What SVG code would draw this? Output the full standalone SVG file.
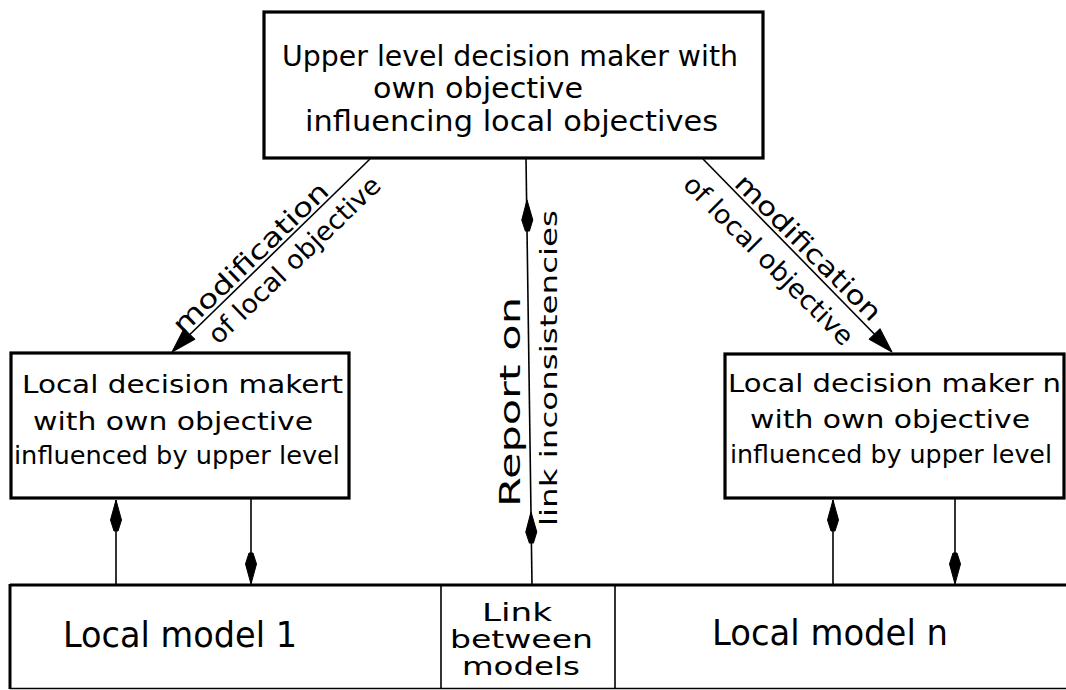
<svg xmlns="http://www.w3.org/2000/svg" width="1066" height="690" viewBox="0 0 1066 690">
  <style>
    .box { fill: #fff; stroke: #000; stroke-width: 3.2; }
    .thin { fill: none; stroke: #000; stroke-width: 1.6; }
    .edge { fill: none; stroke: #000; stroke-width: 3; }
    .t { font-family: "DejaVu Sans", "Liberation Sans", sans-serif; fill: #000; }
    .head { fill: #000; stroke: #000; stroke-width: 1; stroke-linejoin: round; }
  </style>
  <defs>
    <!-- narrow kite-shaped arrowhead, tip at origin, pointing up -->
    <path id="kite" d="M0,0 L-5.5,20 L-2,31 L2,31 L5.5,20 Z"/>
    <!-- broader triangular arrowhead for the diagonal connectors -->
    <path id="tri" d="M0,0 L-7.5,25 L7.5,25 Z"/>
  </defs>

  <rect width="1066" height="690" fill="#fff"/>

  <!-- connectors -->
  <g id="connectors">
    <!-- upper level to local decision maker 1 -->
    <line class="thin" x1="370" y1="159" x2="176" y2="348"/>
    <use href="#tri" class="head" transform="translate(172,352) rotate(-136)"/>
    <!-- upper level to local decision maker n -->
    <line class="thin" x1="703" y1="159" x2="888" y2="348"/>
    <use href="#tri" class="head" transform="translate(892,352) rotate(136)"/>
    <!-- report from the link to the upper level -->
    <line class="thin" x1="526" y1="158" x2="532" y2="585"/>
    <use href="#kite" class="head" transform="translate(527,200) rotate(-0.8)"/>
    <use href="#kite" class="head" transform="translate(531,512) rotate(-0.8)"/>
    <!-- local model 1 exchange -->
    <line class="thin" x1="116" y1="585" x2="116" y2="500"/>
    <use href="#kite" class="head" transform="translate(116,500)"/>
    <line class="thin" x1="251" y1="498" x2="251" y2="583"/>
    <use href="#kite" class="head" transform="translate(251,584) rotate(180)"/>
    <!-- local model n exchange -->
    <line class="thin" x1="833" y1="585" x2="833" y2="500"/>
    <use href="#kite" class="head" transform="translate(833,500)"/>
    <line class="thin" x1="955" y1="498" x2="955" y2="583"/>
    <use href="#kite" class="head" transform="translate(955,584) rotate(180)"/>
  </g>

  <!-- connector labels -->
  <g id="labels">
    <g transform="translate(271,256) rotate(-44)">
      <text class="t" x="-16" y="-4" font-size="26" text-anchor="middle" textLength="205" lengthAdjust="spacingAndGlyphs">modification</text>
      <text class="t" x="14" y="28" font-size="26" text-anchor="middle" textLength="228" lengthAdjust="spacingAndGlyphs">of local objective</text>
    </g>
    <g transform="translate(797,256) rotate(45)">
      <text class="t" x="2" y="-5" font-size="26" text-anchor="middle" textLength="195" lengthAdjust="spacingAndGlyphs">modification</text>
      <text class="t" x="-17" y="32" font-size="26" text-anchor="middle" textLength="228" lengthAdjust="spacingAndGlyphs">of local objective</text>
    </g>
    <g transform="translate(520,402) rotate(-90)">
      <text class="t" x="0" y="0" font-size="28" text-anchor="middle" textLength="210" lengthAdjust="spacingAndGlyphs">Report on</text>
    </g>
    <g transform="translate(557,368) rotate(-90)">
      <text class="t" x="0" y="0" font-size="23" text-anchor="middle" textLength="316" lengthAdjust="spacingAndGlyphs">link inconsistencies</text>
    </g>
  </g>

  <!-- upper level decision maker -->
  <g id="upper">
    <rect class="box" x="264" y="12" width="499" height="146"/>
    <text class="t" x="282" y="66" font-size="28" textLength="456" lengthAdjust="spacingAndGlyphs">Upper level decision maker with</text>
    <text class="t" x="373" y="98" font-size="28" textLength="210" lengthAdjust="spacingAndGlyphs">own objective</text>
    <text class="t" x="305" y="131" font-size="28" textLength="413" lengthAdjust="spacingAndGlyphs">influencing local objectives</text>
  </g>

  <!-- local decision maker 1 -->
  <g id="local-dm-1">
    <rect class="box" x="11" y="353" width="338" height="145"/>
    <text class="t" x="22" y="393" font-size="24" textLength="321" lengthAdjust="spacingAndGlyphs">Local decision makert</text>
    <text class="t" x="33" y="430" font-size="24" textLength="280" lengthAdjust="spacingAndGlyphs">with own objective</text>
    <text class="t" x="14" y="464" font-size="24" textLength="326" lengthAdjust="spacingAndGlyphs">influenced by upper level</text>
  </g>

  <!-- local decision maker n -->
  <g id="local-dm-n">
    <rect class="box" x="725" y="354" width="339" height="144"/>
    <text class="t" x="728" y="392" font-size="24" textLength="333" lengthAdjust="spacingAndGlyphs">Local decision maker n</text>
    <text class="t" x="750" y="428" font-size="24" textLength="280" lengthAdjust="spacingAndGlyphs">with own objective</text>
    <text class="t" x="730" y="463" font-size="24" textLength="322" lengthAdjust="spacingAndGlyphs">influenced by upper level</text>
  </g>

  <!-- model strip along the bottom -->
  <g id="models">
    <line class="edge" x1="10" y1="585" x2="1066" y2="585"/>
    <line class="edge" x1="10" y1="584" x2="10" y2="689"/>
    <line class="thin" x1="10" y1="688.5" x2="1066" y2="688.5"/>
  </g>
  <g id="local-model-1">
    <text class="t" x="63" y="647" font-size="35" textLength="234" lengthAdjust="spacingAndGlyphs">Local model 1</text>
  </g>
  <g id="link-between-models">
    <line class="thin" x1="441" y1="586" x2="441" y2="688"/>
    <line class="thin" x1="615" y1="586" x2="615" y2="688"/>
    <text class="t" x="482" y="621" font-size="25" textLength="70" lengthAdjust="spacingAndGlyphs">Link</text>
    <text class="t" x="450" y="648" font-size="25" textLength="143" lengthAdjust="spacingAndGlyphs">between</text>
    <text class="t" x="462" y="675" font-size="25" textLength="118" lengthAdjust="spacingAndGlyphs">models</text>
  </g>
  <g id="local-model-n">
    <text class="t" x="712" y="645" font-size="35" textLength="236" lengthAdjust="spacingAndGlyphs">Local model n</text>
  </g>
</svg>
